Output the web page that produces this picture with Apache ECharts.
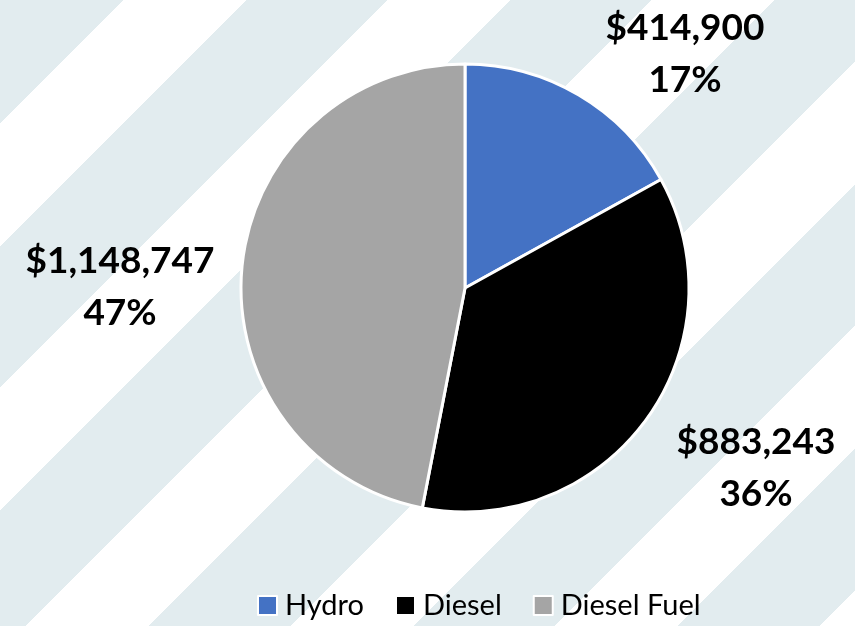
<!DOCTYPE html>
<html>
<head>
<meta charset="utf-8">
<script src="https://cdn.jsdelivr.net/npm/echarts@6/dist/echarts.min.js"></script>
<style>
  html, body {
    margin: 0;
    padding: 0;
  }
  /* diagonal band backdrop */
  #chart {
    width: 855px;
    height: 626px;
    background: repeating-linear-gradient(135deg,
      #e2ecef -13px, #e2ecef 87px, #ffffff 87px, #ffffff 174px);
  }
</style>
</head>
<body>
<div id="chart"></div>
<script>
  var categories = ['Hydro', 'Diesel', 'Diesel Fuel'];
  var costs = [414900, 883243, 1148747];
  var sliceColors = ['#4472c4', '#000000', '#a5a5a5'];

  // where each data label sits (text block centre)
  var labelSpots = [[685, 54], [756, 468], [120, 287]];

  var chart = echarts.init(document.getElementById('chart'));

  chart.setOption({
    animation: false,
    legend: {
      bottom: 1,
      left: 252,
      itemWidth: 19,
      itemHeight: 19,
      itemGap: 31,
      icon: 'rect',
      textStyle: {
        fontFamily: 'Lato',
        fontSize: 29,
        padding: [0, 0, 0, 3],
        color: '#000'
      },
      data: categories
    },
    series: [{
      type: 'pie',
      center: [465, 288],
      radius: 224,
      startAngle: 90,
      clockwise: true,
      itemStyle: {
        borderColor: '#fff',
        borderWidth: 3
      },
      label: {
        show: true,
        position: 'outside',
        overflow: 'none',
        width: 300,
        formatter: function (p) {
          return '{v|$' + p.value.toLocaleString('en-US') + '}\n{v|' + Math.round(p.percent) + '%}';
        },
        rich: {
          v: {
            fontFamily: 'Lato',
            fontWeight: 'bold',
            fontSize: 37,
            lineHeight: 52,
            color: '#000',
            align: 'center'
          }
        }
      },
      labelLine: { show: false },
      labelLayout: function (params) {
        var s = labelSpots[params.dataIndex];
        return {
          x: s[0],
          y: s[1],
          align: 'center',
          verticalAlign: 'middle'
        };
      },
      data: categories.map(function (name, i) {
        return {
          name: name,
          value: costs[i],
          itemStyle: { color: sliceColors[i] }
        };
      })
    }]
  });
</script>
</body>
</html>
